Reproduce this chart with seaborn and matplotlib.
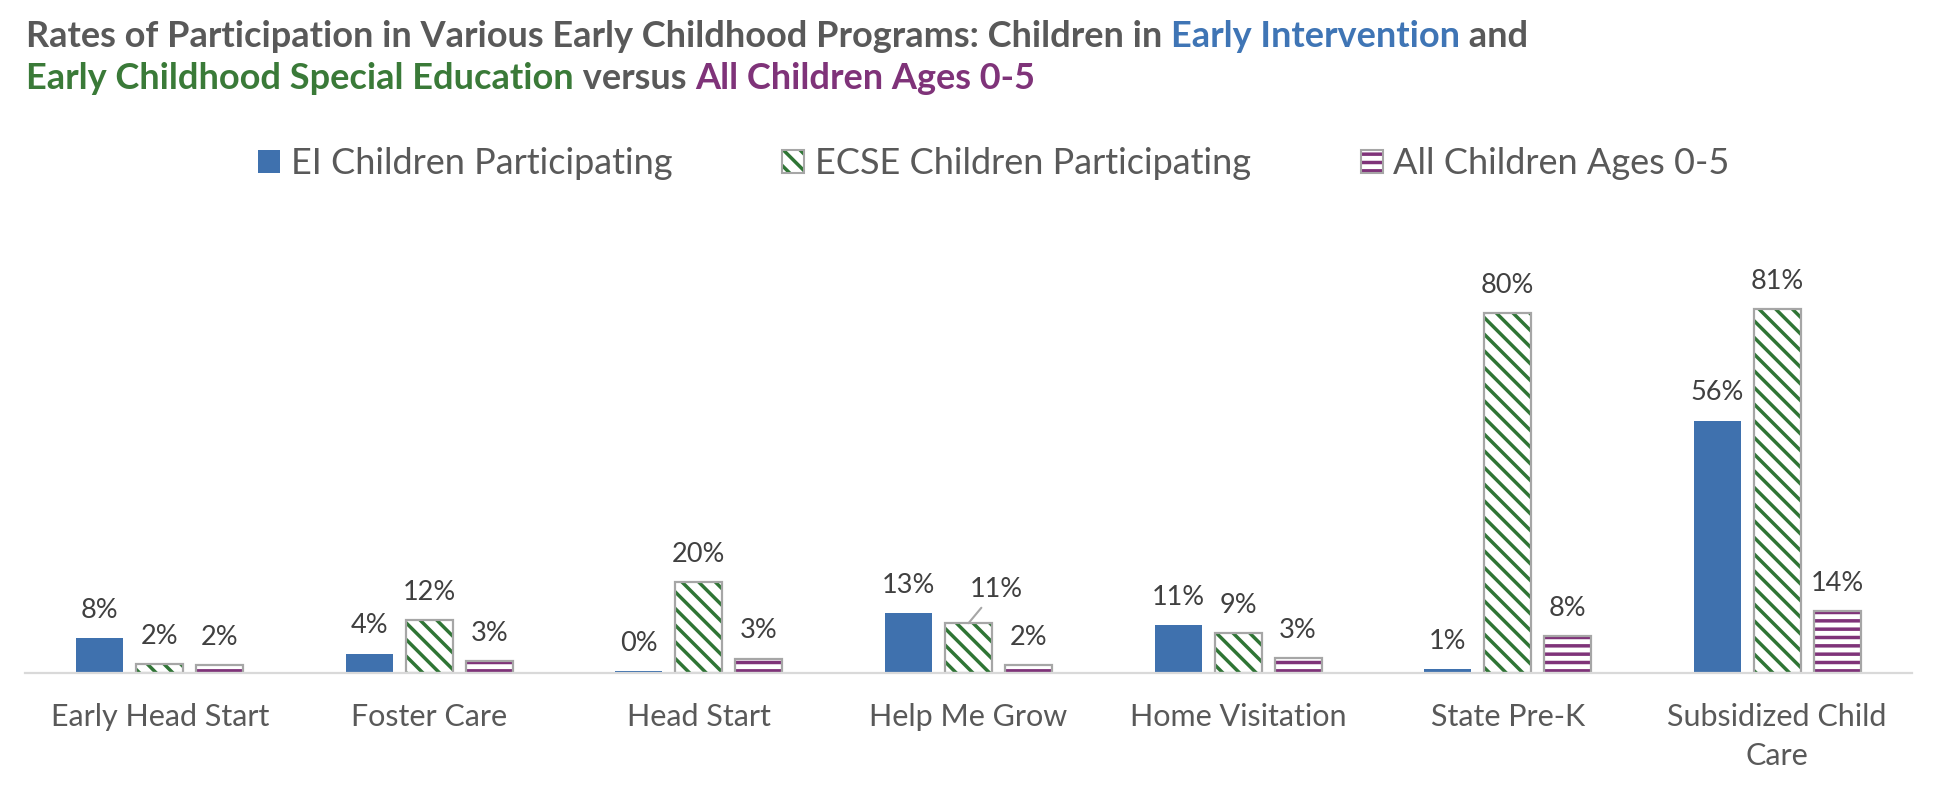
import matplotlib
matplotlib.use('Agg')
import matplotlib.pyplot as plt
from matplotlib.patches import Patch, Rectangle
import seaborn as sns
import pandas as pd

# 数据
programs = ["Early Head Start", "Foster Care", "Head Start", "Help Me Grow",
            "Home Visitation", "State Pre-K", "Subsidized Child\nCare"]
groups = ["EI Children Participating", "ECSE Children Participating", "All Children Ages 0-5"]
ei_rates = [7.7, 4.3, 0.4, 13.4, 10.6, 0.8, 56.2]
ecse_rates = [2.0, 11.7, 20.2, 11.1, 8.9, 80.2, 81.0]
all_rates = [1.7, 2.7, 3.2, 1.7, 3.3, 8.2, 13.8]

BLUE = '#3F71AE'
GREEN = '#2F7535'
PURPLE = '#7F3379'
GRAY_TXT = '#595959'
LABEL_TXT = '#404040'
EDGE = '#A6A6A6'

sns.set_theme(style="white")
plt.rcParams['font.family'] = ['Lato', 'DejaVu Sans']
plt.rcParams['hatch.linewidth'] = 2.5

df = pd.DataFrame({
    'Program': programs * 3,
    'Group': [groups[0]] * 7 + [groups[1]] * 7 + [groups[2]] * 7,
    'Rate': ei_rates + ecse_rates + all_rates,
})

fig = plt.figure(figsize=(19.38, 7.88), dpi=100)
ax = fig.add_axes([25 / 1938, 115 / 788, 1887 / 1938, 404 / 788])

sns.barplot(data=df, x='Program', y='Rate', hue='Group', order=programs, hue_order=groups,
            palette=[BLUE, 'white', 'white'], width=0.668, gap=0.218, saturation=1,
            legend=False, errorbar=None, ax=ax)

ax.set_xlim(-0.5, len(programs) - 0.5)
ax.set_ylim(0, 90)
ax.set_xlabel('')
ax.set_ylabel('')
ax.set_yticks([])
for side in ['top', 'left', 'right']:
    ax.spines[side].set_visible(False)
ax.spines['bottom'].set_color('#D9D9D9')
ax.spines['bottom'].set_linewidth(1.6)
ax.tick_params(axis='x', length=0, pad=21.5, labelsize=22, labelcolor=GRAY_TXT)
for lbl in ax.get_xticklabels():
    lbl.set_linespacing(1.5)

# 填充样式
styles = [(BLUE, None), (GREEN, '\\\\'), (PURPLE, '--')]
for cont, (col, hatch) in zip(ax.containers, styles):
    for p in cont:
        if hatch is None:
            p.set_facecolor(col)
            p.set_edgecolor('none')
            p.set_linewidth(0)
        else:
            p.set_facecolor('white')
            p.set_hatch(hatch)
            p.set_edgecolor(col)
            p.set_linewidth(0)
            ax.add_patch(Rectangle(p.get_xy(), p.get_width(), p.get_height(), fill=False,
                                   edgecolor=EDGE, linewidth=1.6, zorder=p.get_zorder() + 0.1))

# 数据标签
all_values = [ei_rates, ecse_rates, all_rates]
for gi, (cont, vals) in enumerate(zip(ax.containers, all_values)):
    labels = [f"{v:.0f}%" for v in vals]
    if gi == 1:
        labels[3] = ''
    ax.bar_label(cont, labels=labels, padding=11, fontsize=19.5, color=LABEL_TXT)

bar = ax.containers[1][3]
ax.annotate(f"{ecse_rates[3]:.0f}%", xy=(bar.get_x() + bar.get_width() / 2, bar.get_height()),
            xytext=(20, 24), textcoords='offset points', ha='center', va='center',
            fontsize=19.5, color=LABEL_TXT,
            arrowprops=dict(arrowstyle='-', color=EDGE, lw=1.5, shrinkA=2, shrinkB=0))

# 图例
handles = [
    Patch(facecolor=BLUE, edgecolor='none'),
    (Patch(facecolor='white', hatch='\\\\', edgecolor=GREEN, linewidth=0),
     Patch(fill=False, edgecolor=EDGE, linewidth=1.5)),
    (Patch(facecolor='white', hatch='--', edgecolor=PURPLE, linewidth=0),
     Patch(fill=False, edgecolor=EDGE, linewidth=1.5)),
]
fig.legend(handles, groups, loc='center', bbox_to_anchor=(994 / 1938, 1 - 164 / 788),
           ncol=3, frameon=False, fontsize=26, handlelength=0.6, handleheight=0.6,
           handletextpad=0.3, columnspacing=3.05, labelcolor=GRAY_TXT)

# 多色标题
renderer = fig.canvas.get_renderer()
TITLE_SIZE = 26


def text_width(s):
    t = fig.text(0, 0, s + '|', fontsize=TITLE_SIZE, weight='bold')
    w1 = t.get_window_extent(renderer).width
    t.remove()
    t = fig.text(0, 0, '|', fontsize=TITLE_SIZE, weight='bold')
    w2 = t.get_window_extent(renderer).width
    t.remove()
    return (w1 - w2) / fig.bbox.width


title_lines = [
    ([("Rates of Participation in Various Early Childhood Programs: Children in ", GRAY_TXT),
      ("Early Intervention", '#3F75B5'), (" and", GRAY_TXT)], 1 - 46.7 / 788),
    ([("Early Childhood Special Education", '#3A7A38'), (" versus ", GRAY_TXT),
      ("All Children Ages 0-5", PURPLE)], 1 - 89.3 / 788),
]
x0 = 26 / 1938
for parts, y in title_lines:
    prefix = ''
    for s, c in parts:
        fig.text(x0 + text_width(prefix), y, s, color=c, fontsize=TITLE_SIZE, weight='bold',
                 va='baseline')
        prefix += s

plt.savefig('out.png', dpi=100)
